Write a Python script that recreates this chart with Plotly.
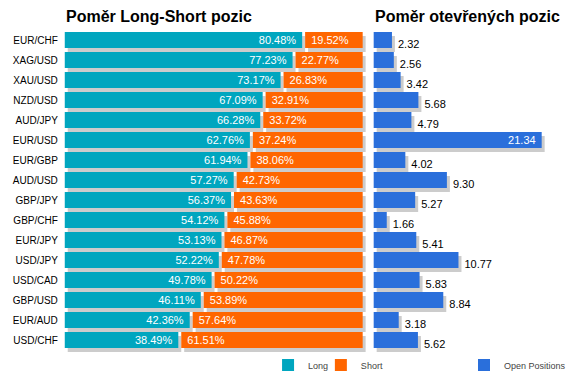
import plotly.graph_objects as go

# ---- data ----
pairs = ["EUR/CHF", "XAG/USD", "XAU/USD", "NZD/USD", "AUD/JPY", "EUR/USD", "EUR/GBP", "AUD/USD",
         "GBP/JPY", "GBP/CHF", "EUR/JPY", "USD/JPY", "USD/CAD", "GBP/USD", "EUR/AUD", "USD/CHF"]
long_pct = [80.48, 77.23, 73.17, 67.09, 66.28, 62.76, 61.94, 57.27,
            56.37, 54.12, 53.13, 52.22, 49.78, 46.11, 42.36, 38.49]
short_pct = [19.52, 22.77, 26.83, 32.91, 33.72, 37.24, 38.06, 42.73,
             43.63, 45.88, 46.87, 47.78, 50.22, 53.89, 57.64, 61.51]
open_pos = [2.32, 2.56, 3.42, 5.68, 4.79, 21.34, 4.02, 9.30,
            5.27, 1.66, 5.41, 10.77, 5.83, 8.84, 3.18, 5.62]

title_left = "Poměr Long-Short pozic"
title_right = "Poměr otevřených pozic"

# ---- style ----
W, H = 571, 380
C_LONG = "#00A6BF"
C_SHORT = "#FF6600"
C_OPEN = "#2A6FDB"
C_SHADOW = "#CCCCCC"
FONT = "Liberation Sans, Arial, sans-serif"
NB = "\u00a0"
GAP = 1.0          # gap between long and short segment (axis units)
SH_DX_L = 1.0      # shadow shift right, left chart (units)
SH_DX_R = 0.38     # shadow shift right, right chart (units)
SH_DY = 0.2        # shadow shift down (row units)
BAR_W = 0.8

n = len(pairs)
rows = list(range(n))
rows_sh = [r + SH_DY for r in rows]
short_base = [l + GAP for l in long_pct]

R_MAX = 24.5
inside_right = [v > 0.8 * R_MAX for v in open_pos]
fmt = lambda v: f"{v:.2f}"

fig = go.Figure()

# left chart shadows
fig.add_trace(go.Bar(y=rows_sh, x=long_pct, base=[SH_DX_L] * n, orientation="h", width=BAR_W,
                     marker=dict(color=C_SHADOW, line_width=0), showlegend=False,
                     hoverinfo="skip", xaxis="x", yaxis="y"))
fig.add_trace(go.Bar(y=rows_sh, x=short_pct, base=[b + SH_DX_L for b in short_base], orientation="h",
                     width=BAR_W, marker=dict(color=C_SHADOW, line_width=0), showlegend=False,
                     hoverinfo="skip", xaxis="x", yaxis="y"))
# long / short
fig.add_trace(go.Bar(y=rows, x=long_pct, orientation="h", width=BAR_W, name="Long",
                     marker=dict(color=C_LONG, line_width=0),
                     text=[f"{v:.2f}%" for v in long_pct], texttemplate="%{text}" + NB,
                     textposition="inside", insidetextanchor="end", textangle=0, constraintext="none",
                     textfont=dict(color="white", size=11, family=FONT),
                     xaxis="x", yaxis="y", legend="legend"))
fig.add_trace(go.Bar(y=rows, x=short_pct, base=short_base, orientation="h", width=BAR_W, name="Short",
                     marker=dict(color=C_SHORT, line_width=0),
                     text=[f"{v:.2f}%" for v in short_pct], texttemplate=NB + "%{text}",
                     textposition="inside", insidetextanchor="start", textangle=0, constraintext="none",
                     textfont=dict(color="white", size=11, family=FONT),
                     xaxis="x", yaxis="y", legend="legend3"))

# right chart
fig.add_trace(go.Bar(y=rows_sh, x=open_pos, base=[SH_DX_R] * n, orientation="h", width=BAR_W,
                     marker=dict(color=C_SHADOW, line_width=0), showlegend=False, hoverinfo="skip",
                     text=["" if ins else fmt(v) for v, ins in zip(open_pos, inside_right)],
                     textposition="outside", textangle=0, cliponaxis=False, constraintext="none",
                     textfont=dict(color="black", size=11, family=FONT),
                     xaxis="x2", yaxis="y2"))
fig.add_trace(go.Bar(y=rows, x=open_pos, orientation="h", width=BAR_W, name="Open Positions",
                     marker=dict(color=C_OPEN, line_width=0),
                     text=[fmt(v) + NB if ins else "" for v, ins in zip(open_pos, inside_right)],
                     textposition="inside", insidetextanchor="end", textangle=0, constraintext="none",
                     textfont=dict(color="white", size=11, family=FONT),
                     xaxis="x2", yaxis="y2", legend="legend2"))

px = lambda p: p / W
py = lambda p: 1 - p / H

yrange = [15.8, -0.7]
ydom = [py(356), py(26)]

leg_style = dict(orientation="h", y=py(365), xanchor="left", yanchor="middle",
                 font=dict(size=9, color="#444444", family=FONT), itemwidth=30,
                 bgcolor="rgba(0,0,0,0)")

fig.update_layout(
    width=W, height=H, margin=dict(l=0, r=0, t=0, b=0),
    paper_bgcolor="white", plot_bgcolor="white",
    barmode="overlay", font=dict(family=FONT, size=10, color="black"),
    uniformtext=dict(mode="show", minsize=11),
    xaxis=dict(domain=[px(65 - 2.96), px(65 + 103 * 2.96)], range=[-1, 103],
               showgrid=False, zeroline=False, showticklabels=False, showline=False, fixedrange=True),
    yaxis=dict(domain=ydom, range=yrange, tickvals=rows, ticktext=pairs,
               showgrid=False, zeroline=False, showline=False, ticks="",
               tickfont=dict(size=10, color="black", family=FONT), ticklabelstandoff=3),
    xaxis2=dict(domain=[px(375 - 0.3 * 7.9), px(375 + R_MAX * 7.9)], range=[-0.3, R_MAX],
                anchor="y2", showgrid=False, zeroline=False, showticklabels=False, showline=False),
    yaxis2=dict(domain=ydom, range=yrange, anchor="x2", showgrid=False, zeroline=False,
                showticklabels=False, showline=False, ticks=""),
    legend=dict(x=px(269), **leg_style),
    legend3=dict(x=px(322), **leg_style),
    legend2=dict(x=px(466), **leg_style),
    annotations=[
        dict(text=f"<b>{title_left}</b>", x=px(64), y=py(16), xref="paper", yref="paper",
             xanchor="left", yanchor="middle", showarrow=False,
             font=dict(size=16, color="black", family=FONT)),
        dict(text=f"<b>{title_right}</b>", x=px(374), y=py(16), xref="paper", yref="paper",
             xanchor="left", yanchor="middle", showarrow=False,
             font=dict(size=16, color="black", family=FONT)),
    ],
)

fig.write_html("out.html", config={"displayModeBar": False},
               post_script="document.body.style.margin='0';")
